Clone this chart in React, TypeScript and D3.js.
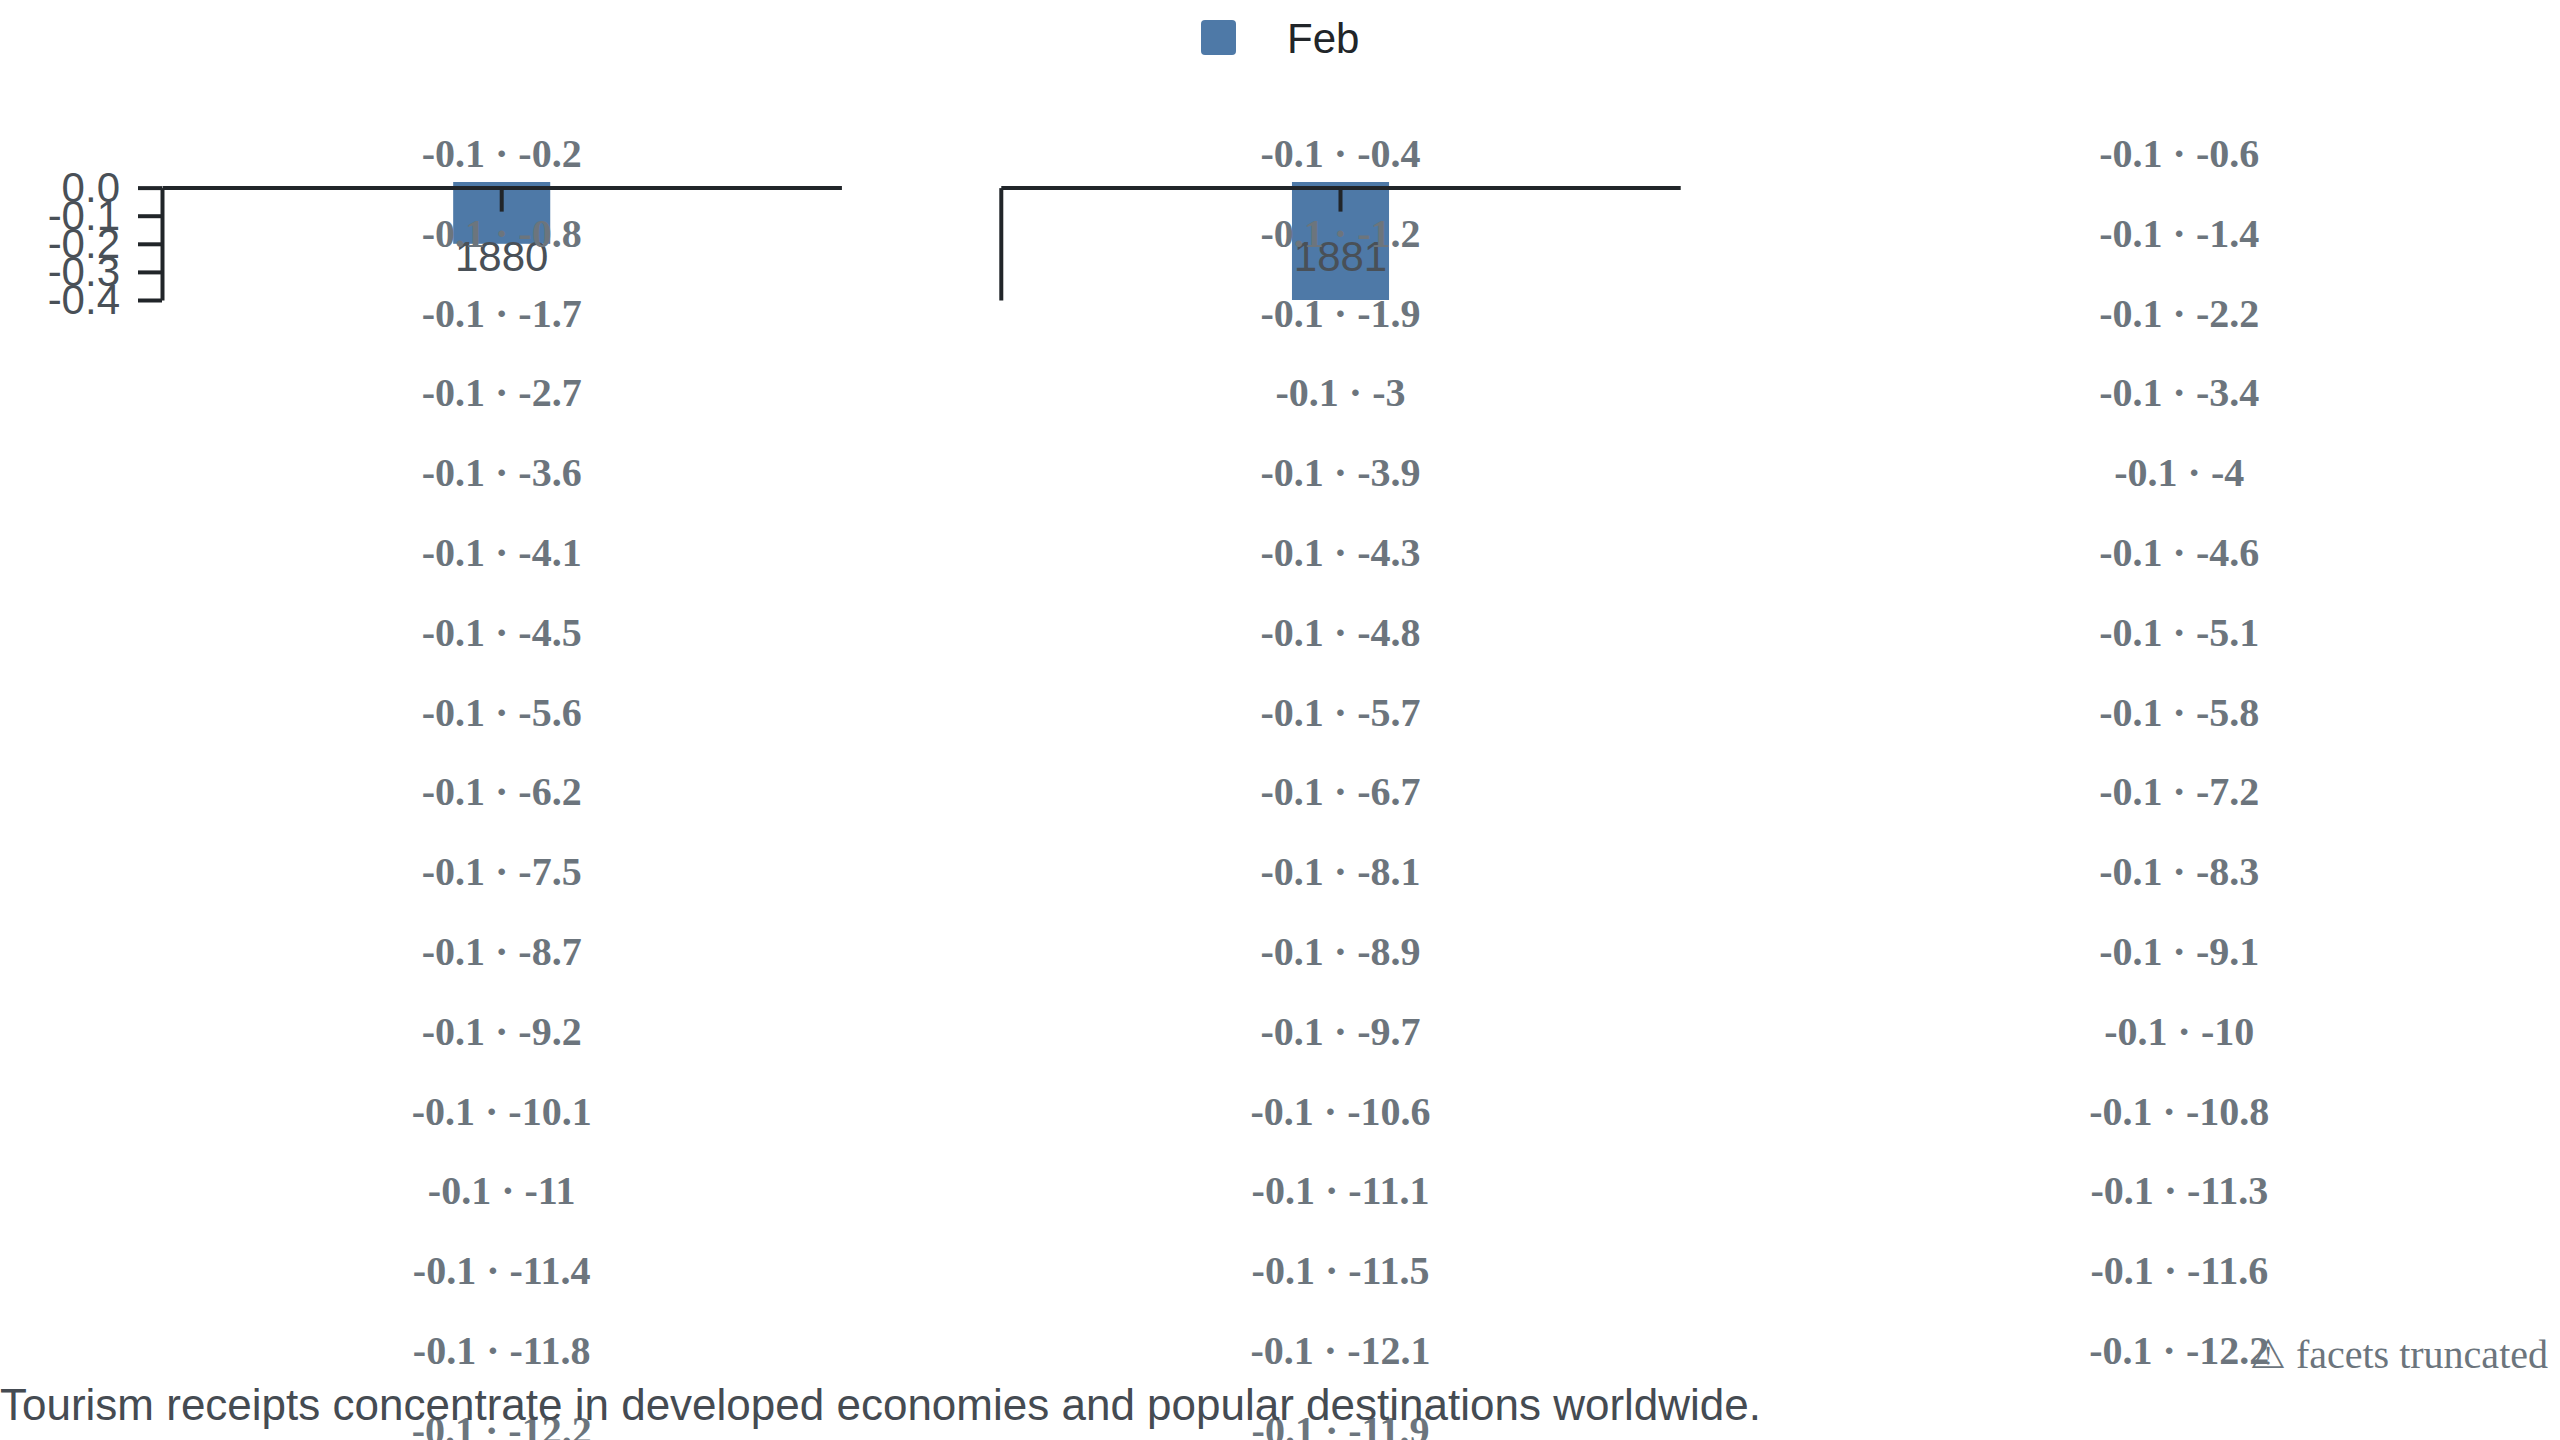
import { axisBottom, axisLeft, scaleBand, scaleLinear, scaleOrdinal, select } from "d3";
import { useEffect, useRef } from "react";

const months = ["Feb"];
const years = ["1880", "1881"];
const febValues = [-0.2, -0.4];
const yTicks = [0, -0.1, -0.2, -0.3, -0.4];
const leadValue = -0.1;
// running totals, in reading order (left to right, top to bottom)
const runningValues = [
  -0.2, -0.4, -0.6, -0.8, -1.2, -1.4, -1.7, -1.9, -2.2, -2.7, -3, -3.4,
  -3.6, -3.9, -4, -4.1, -4.3, -4.6, -4.5, -4.8, -5.1, -5.6, -5.7, -5.8,
  -6.2, -6.7, -7.2, -7.5, -8.1, -8.3, -8.7, -8.9, -9.1, -9.2, -9.7, -10,
  -10.1, -10.6, -10.8, -11, -11.1, -11.3, -11.4, -11.5, -11.6, -11.8, -12.1,
  -12.2, -12.2, -11.9,
];
const caption =
  "Tourism receipts concentrate in developed economies and popular destinations worldwide.";
const truncatedNote = "⚠ facets truncated";

const SANS = "'Liberation Sans', Arial, sans-serif";
const SERIF = "'Liberation Serif', 'Times New Roman', serif";
const INK = "#212529";

const columns = ["0", "1", "2"];
const facetX = scaleBand().domain(columns).range([162, 2519]).paddingInner(0.19);
const rowY = scaleLinear().domain([0, 1]).range([167, 246.8]);
const y = scaleLinear().domain([-0.4, 0.02]).range([300, 182]);
const yAxisScale = scaleLinear().domain([-0.4, 0]).range([y(-0.4), y(0)]);
const color = scaleOrdinal<string, string>().domain(months).range(["#4e79a7"]);

function styleAxis(g: any) {
  g.attr("font-size", 42).attr("font-family", SANS).attr("color", INK);
  g.selectAll("path, line").attr("stroke-width", 4);
  g.selectAll("text").attr("fill", "#495057");
}

function XAxis({ scale, transform }: { scale: any; transform: string }) {
  const ref = useRef<SVGGElement>(null);
  useEffect(() => {
    if (ref.current) {
      const g = select(ref.current);
      g.call(axisBottom(scale).tickSize(24).tickSizeOuter(0).tickPadding(30));
      styleAxis(g);
    }
  }, [scale]);
  return <g ref={ref} transform={transform} />;
}

function YAxis({ showTicks }: { showTicks: boolean }) {
  const ref = useRef<SVGGElement>(null);
  useEffect(() => {
    if (ref.current) {
      const g = select(ref.current);
      g.call(
        axisLeft(yAxisScale)
          .tickValues(showTicks ? yTicks : [])
          .tickSize(24)
          .tickSizeOuter(0)
          .tickPadding(18)
          .tickFormat((d: any) => (+d).toFixed(1))
      );
      styleAxis(g);
    }
  }, [showTicks]);
  return <g ref={ref} />;
}

function Panel({ index }: { index: number }) {
  const left = facetX(String(index)) as number;
  const width = facetX.bandwidth();
  const x = scaleBand().domain([years[index]]).range([0, width]).padding(0.75);
  const value = febValues[index];
  return (
    <g transform={`translate(${left},0)`}>
      <rect
        x={x(years[index])}
        y={y(0.02)}
        width={x.bandwidth()}
        height={y(value) - y(0.02)}
        fill={color(months[0])}
      />
      <YAxis showTicks={index === 0} />
      <XAxis scale={x} transform={`translate(0,${y(0)})`} />
    </g>
  );
}

export default function App() {
  return (
    <svg
      width={2560}
      height={1440}
      style={{ position: "absolute", left: 0, top: 0, display: "block", background: "#fff" }}
    >
      <g transform="translate(1201,20)">
        <rect width={35} height={35} rx={4} fill={color(months[0])} />
        <text x={86} y={33} fontSize={42} fontFamily={SANS} fill={INK}>
          {months[0]}
        </text>
      </g>

      {years.map((yr, i) => (
        <Panel key={yr} index={i} />
      ))}

      {runningValues.map((v, i) => {
        const col = columns[i % 3];
        const row = Math.floor(i / 3);
        return (
          <text
            key={i}
            x={(facetX(col) as number) + facetX.bandwidth() / 2}
            y={rowY(row)}
            textAnchor="middle"
            fontSize={40}
            fontWeight="bold"
            fontFamily={SERIF}
            fill="#6c757d"
          >
            {`${leadValue} · ${v}`}
          </text>
        );
      })}

      <text x={0} y={1420} fontSize={44} fontFamily={SANS} fill="#454b52">
        {caption}
      </text>
      <text x={2548} y={1368} textAnchor="end" fontSize={40} fontFamily={SERIF} fill="#6c757d">
        {truncatedNote}
      </text>
    </svg>
  );
}
